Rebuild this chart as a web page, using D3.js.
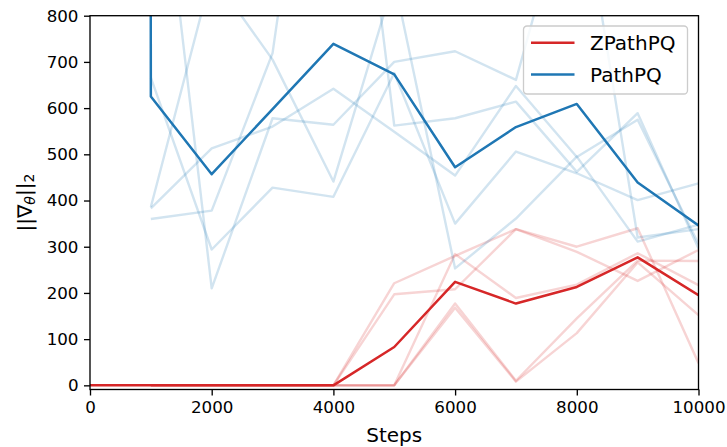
<!DOCTYPE html>
<html>
<head>
<meta charset="utf-8">
<title>Gradient norm per step</title>
<style>
body {
  margin: 0;
  background: #fff;
  font-family: "DejaVu Sans", sans-serif;
}

svg {
  display: block;
}

.axis text {
  font: 16.7px "DejaVu Sans", sans-serif;
  fill: #000;
}

.axis line {
  stroke: #000;
  stroke-width: 1.33px;
}

.axis path.domain {
  display: none;
}

.seed {
  fill: none;
  stroke-width: 2.4px;
  stroke-opacity: 0.2;
  stroke-linejoin: round;
}

.mean {
  fill: none;
  stroke-width: 2.5px;
  stroke-linejoin: round;
}
</style>
<script src="https://d3js.org/d3.v7.min.js"></script>
</head>
<body>
<script>
// steps logged during training
const steps = [0, 1000, 2000, 3000, 4000, 5000, 6000, 7000, 8000, 9000, 10000];
const seedSteps = steps.slice(1);

// ZPathPQ, one row per seed (steps 1000..10000)
const zpathSeeds = [
  [0, 0, 0, 0, 221, 280, 338, 300, 340, 48],
  [0, 0, 0, 0, 197, 208, 338, 289, 226, 293],
  [0, 0, 0, 0, 0, 284, 189, 218, 286, 217],
  [0, 0, 0, 0, 0, 177, 10, 145, 270, 269],
  [0, 0, 0, 0, 0, 168, 8, 113, 266, 152]
];
const zpathMean = [0, 0, 0, 0, 0, 83, 224, 177, 213, 277, 195];

// PathPQ, one row per seed (steps 1000..10000)
const pathSeeds = [
  [1342, 210, 578, 564, 700, 723, 661, 1135, 320, 338],
  [666, 294, 428, 408, 676, 350, 506, 459, 401, 437],
  [383, 513, 560, 642, 549, 454, 648, 494, 575, 306],
  [386, 890, 705, 441, 877, 253, 361, 495, 311, 348],
  [360, 378, 719, 1640, 562, 578, 614, 462, 589, 296]
];
// step 0 is far off the top of the chart
const pathMean = [120000, 625, 457, 598, 739, 673, 472, 559, 609, 439, 346];

const xTicks = [0, 2000, 4000, 6000, 8000, 10000];
const yTicks = [0, 100, 200, 300, 400, 500, 600, 700, 800];

const series = [
  {name: 'ZPathPQ', color: '#d62728', seeds: zpathSeeds, mean: zpathMean},
  {name: 'PathPQ', color: '#1f77b4', seeds: pathSeeds, mean: pathMean}
];

const width = 727,
  height = 447,
  margin = {top: 15.7, right: 28.5, bottom: 57.5, left: 90};

const svg = d3.select('body').append('svg')
  .attr('width', width)
  .attr('height', height);

const x = d3.scaleLinear()
  .domain([0, 10000])
  .range([margin.left, width - margin.right]);

const y = d3.scaleLinear()
  .domain([-9, 800])
  .range([height - margin.bottom, margin.top]);

svg.append('clipPath')
  .attr('id', 'plot')
  .append('rect')
    .attr('x', x.range()[0])
    .attr('y', y.range()[1])
    .attr('width', x.range()[1] - x.range()[0])
    .attr('height', y.range()[0] - y.range()[1]);

const line = d3.line()
  .x(d => x(d[0]))
  .y(d => y(d[1]));

const plot = svg.append('g')
  .attr('clip-path', 'url(#plot)');

series.forEach(s => {
  plot.append('g')
    .selectAll('path')
    .data(s.seeds)
    .enter().append('path')
      .attr('class', 'seed')
      .attr('stroke', s.color)
      .attr('d', vals => line(vals.map((v, i) => [seedSteps[i], v])));

  plot.append('path')
    .attr('class', 'mean')
    .attr('stroke', s.color)
    .attr('d', line(s.mean.map((v, i) => [steps[i], v])));
});

// axes
svg.append('g')
  .attr('class', 'axis')
  .attr('transform', 'translate(0,' + y.range()[0] + ')')
  .call(d3.axisBottom(x).tickValues(xTicks).tickSize(6).tickPadding(5.5).tickFormat(d3.format('d')));

svg.append('g')
  .attr('class', 'axis')
  .attr('transform', 'translate(' + x.range()[0] + ',0)')
  .call(d3.axisLeft(y).tickValues(yTicks).tickSize(6).tickPadding(5.5).tickFormat(d3.format('d')));

// spines
svg.append('rect')
  .attr('x', x.range()[0])
  .attr('y', y.range()[1])
  .attr('width', x.range()[1] - x.range()[0])
  .attr('height', y.range()[0] - y.range()[1])
  .attr('fill', 'none')
  .attr('stroke', '#000')
  .attr('stroke-width', 1.33);

// axis labels
svg.append('text')
  .attr('x', (x.range()[0] + x.range()[1]) / 2)
  .attr('y', 442)
  .attr('text-anchor', 'middle')
  .style('font-size', '20px')
  .text('Steps');

const ylab = svg.append('text')
  .attr('transform', 'translate(32,' + ((y.range()[0] + y.range()[1]) / 2) + ') rotate(-90)')
  .attr('text-anchor', 'middle')
  .style('font-size', '20px');
ylab.append('tspan').text('||∇');
ylab.append('tspan').attr('dy', '0.22em').style('font-size', '14px').style('font-style', 'italic').text('θ');
ylab.append('tspan').attr('dy', '-0.22em').text('||');
ylab.append('tspan').attr('dy', '0.22em').style('font-size', '14px').text('2');

// legend
const legend = svg.append('g')
  .attr('transform', 'translate(523.5,26)');

legend.append('rect')
  .attr('width', 164)
  .attr('height', 68)
  .attr('rx', 3.5)
  .attr('fill', 'white')
  .attr('fill-opacity', 0.8)
  .attr('stroke', '#cccccc')
  .attr('stroke-width', 1.33);

const item = legend.selectAll('g.item')
  .data(series)
  .enter().append('g')
    .attr('class', 'item')
    .attr('transform', (d, i) => 'translate(0,' + (16.7 + i * 31.7) + ')');

item.append('line')
  .attr('x1', 7.5)
  .attr('x2', 51)
  .attr('stroke', d => d.color)
  .attr('stroke-width', 2.5);

item.append('text')
  .attr('x', 66.5)
  .attr('dy', '0.36em')
  .style('font-size', '20px')
  .text(d => d.name);
</script>
</body>
</html>
